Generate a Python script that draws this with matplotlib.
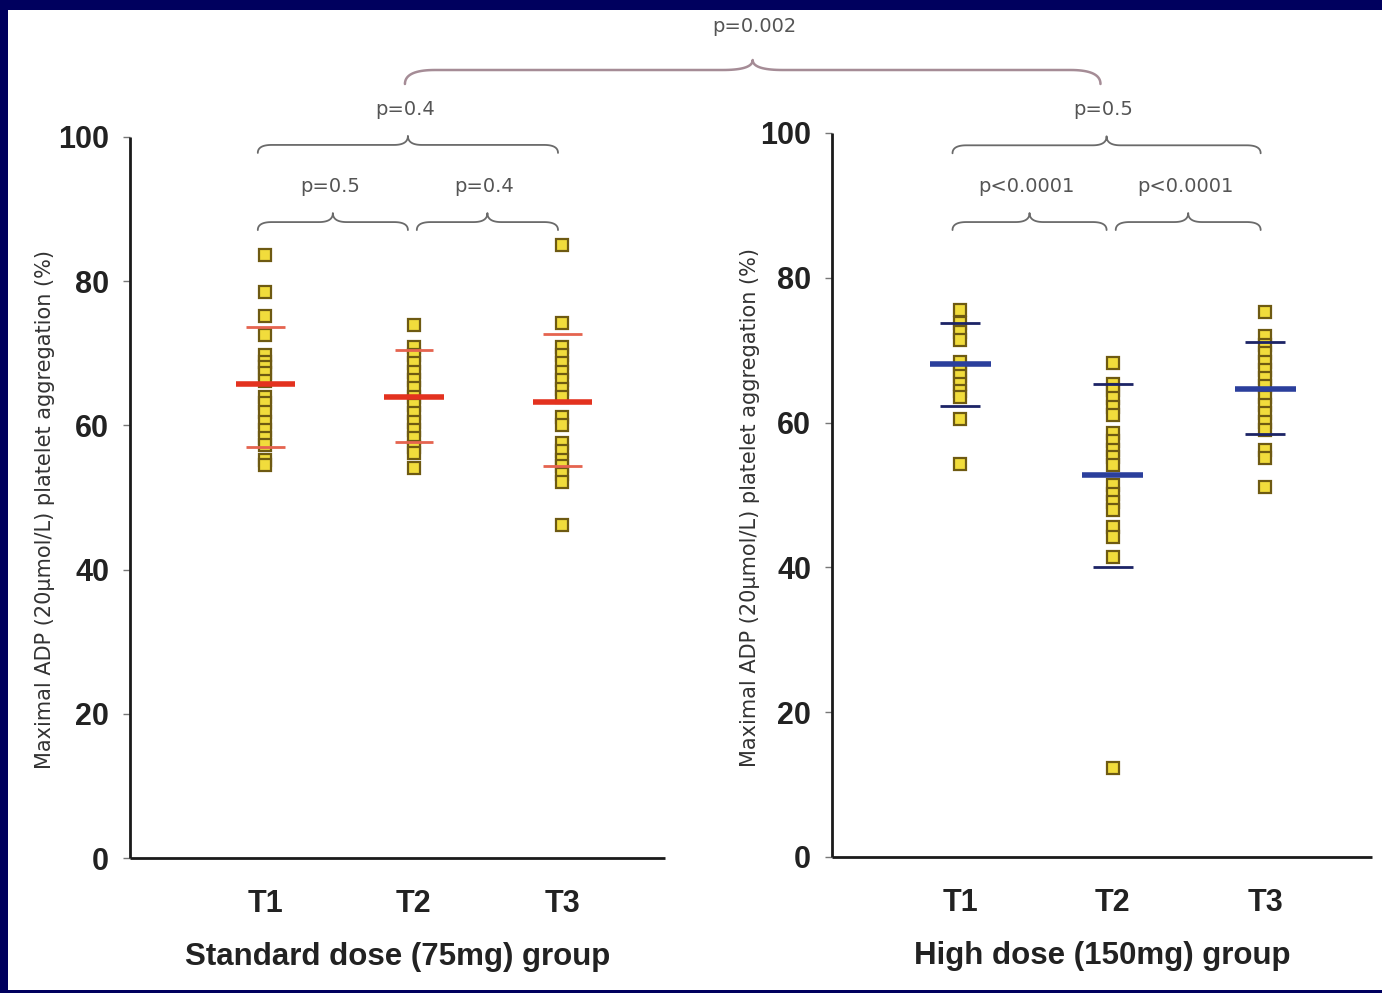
import numpy as np
import matplotlib
matplotlib.use("Agg")
import matplotlib.pyplot as plt
from matplotlib.patches import Rectangle
from matplotlib.lines import Line2D

# ---------------- data ----------------
timepoints = ["T1", "T2", "T3"]
yticks = [0, 20, 40, 60, 80, 100]

std_T1 = [83.6, 78.5, 75.2, 72.5, 69.8, 68.8, 68.1, 67.3, 66.1, 64.0, 63.1,
          61.9, 60.5, 59.4, 58.3, 57.3, 55.2, 54.5]
std_T2 = [73.9, 70.9, 69.8, 68.7, 67.4, 66.3, 65.2, 64.0, 62.8, 61.7, 60.5,
          59.4, 58.3, 57.0, 56.2, 54.1]
std_T3 = [85.0, 74.2, 70.9, 69.8, 68.6, 67.4, 66.3, 65.1, 64.0, 61.2, 60.0,
          57.5, 56.4, 55.2, 54.3, 53.3, 52.2, 46.2]
std_mean = [65.7, 64.0, 63.3]
std_upper = [73.7, 70.5, 72.7]
std_lower = [57.0, 57.7, 54.3]

high_T1 = [75.6, 73.7, 72.5, 71.4, 68.4, 67.3, 66.5, 65.3, 64.4, 63.5, 60.5, 54.3]
high_T2 = [68.2, 65.4, 64.5, 63.4, 62.2, 61.0, 58.5, 57.4, 56.2, 55.3, 54.1,
           51.4, 50.2, 49.1, 47.9, 45.6, 44.2, 41.5, 12.3]
high_T3 = [75.3, 71.9, 70.7, 69.6, 68.4, 67.3, 66.1, 65.0, 63.6, 62.4, 61.3,
           60.1, 59.0, 56.2, 55.1, 51.1]
high_mean = [68.1, 52.8, 64.7]
high_upper = [73.7, 65.3, 71.1]
high_lower = [62.3, 40.0, 58.4]

# comparisons: (x1, x2, label)
std_pairs = [(1, 2, "p=0.5"), (2, 3, "p=0.4"), (1, 3, "p=0.4")]
high_pairs = [(1, 2, "p<0.0001"), (2, 3, "p<0.0001"), (1, 3, "p=0.5")]
between_label = "p=0.002"

ylabel = "Maximal ADP (20\u00b5mol/L) platelet aggregation (%)"
std_title = "Standard dose (75mg) group"
high_title = "High dose (150mg) group"

# ---------------- figure ----------------
W, H = 1382, 993
DPI = 100
fig = plt.figure(figsize=(W / DPI, H / DPI), dpi=DPI, facecolor="#00005e")
fig.patches.append(Rectangle((8 / W, 3 / H), 1 - 8 / W, (H - 13) / H,
                             transform=fig.transFigure, facecolor="white",
                             edgecolor="none", zorder=-5))

axL = fig.add_axes([130 / W, (H - 858) / H, 535 / W, 721 / H])
axR = fig.add_axes([832 / W, (H - 857) / H, 540 / W, 724 / H])

TXT = "Liberation Sans"


def style(ax, xlim, lab_xy):
    ax.set_facecolor("none")
    ax.set_xlim(*xlim)
    ax.set_ylim(0, 100)
    for s in ["top", "right"]:
        ax.spines[s].set_visible(False)
    for s in ["left", "bottom"]:
        ax.spines[s].set_linewidth(2.0)
        ax.spines[s].set_color("#1a1a1a")
        ax.spines[s].set_capstyle("butt")
    ax.set_yticks(yticks)
    ax.set_yticklabels([str(v) for v in yticks], fontsize=22, fontfamily=TXT,
                       fontweight="bold", color="#222222")
    ax.tick_params(axis="y", length=5, width=1.0, color="#777777", pad=10)
    ax.set_xticks([1, 2, 3])
    ax.set_xticklabels(timepoints, fontsize=22, fontfamily=TXT,
                       fontweight="bold", color="#222222")
    ax.tick_params(axis="x", length=0, pad=22)
    ax.set_ylabel(ylabel, fontsize=15, color="#333333")
    ax.yaxis.set_label_coords(*lab_xy)


style(axL, (0.09, 3.69), (-0.14, 0.484))
style(axR, (0.16, 3.70), (-0.133, 0.483))


def draw_group(ax, groups, means, uppers, lowers, mcol, scol, mw, sw):
    for i, vals in enumerate(groups):
        x = i + 1
        ax.plot([x] * len(vals), vals, linestyle="none", marker="s",
                markersize=8.5, markerfacecolor="#f1dc3c",
                markeredgecolor="#6e5a12", markeredgewidth=1.6, zorder=2,
                clip_on=False)
        ax.hlines(means[i], x - mw, x + mw, color=mcol, lw=4.0, zorder=3)
        ax.hlines([uppers[i], lowers[i]], x - sw, x + sw, color=scol, lw=2.0,
                  zorder=3)


draw_group(axL, [std_T1, std_T2, std_T3], std_mean, std_upper, std_lower,
           "#e3321f", "#e5644f", 0.20, 0.13)
draw_group(axR, [high_T1, high_T2, high_T3], high_mean, high_upper, high_lower,
           "#2b3f9c", "#1c2466", 0.20, 0.13)

axL.set_xlabel(std_title, fontsize=22.5, fontfamily=TXT, fontweight="bold",
               color="#222222", labelpad=17)
axR.set_xlabel(high_title, fontsize=22.5, fontfamily=TXT, fontweight="bold",
               color="#222222", labelpad=17)

inv = fig.transFigure.inverted()


def qbez(p0, p1, p2, n=20):
    t = np.linspace(0, 1, n)[:, None]
    return (1 - t) ** 2 * p0 + 2 * (1 - t) * t * p1 + t ** 2 * p2


def brace(xa, xb, y, color, lw, h=8, tip=9, q=14):
    """xa, xb, y in display pixels; draws an upward curly brace."""
    xm = (xa + xb) / 2
    segs = [
        qbez(np.array([xa, y - h]), np.array([xa, y]), np.array([xa + q, y])),
        np.array([[xa + q, y], [xm - q, y]]),
        qbez(np.array([xm - q, y]), np.array([xm, y]), np.array([xm, y + tip])),
        qbez(np.array([xm, y + tip]), np.array([xm, y]), np.array([xm + q, y])),
        np.array([[xm + q, y], [xb - q, y]]),
        qbez(np.array([xb - q, y]), np.array([xb, y]), np.array([xb, y - h])),
    ]
    pts = np.vstack(segs)
    f = inv.transform(pts)
    fig.lines.append(Line2D(f[:, 0], f[:, 1], transform=fig.transFigure,
                            color=color, lw=lw, solid_capstyle="round"))
    return xm, y + tip


def pair_braces(ax, pairs, ylow, yhigh, dx0=-0.05, dx1=-0.03):
    for k, (a, b, lab) in enumerate(pairs):
        yv = ylow if b - a == 1 else yhigh
        xa = a + (dx0 if a == 1 else 0.02)
        xb = b + (dx1 if b == 3 else -0.04)
        pa = ax.transData.transform((xa, yv))
        pb = ax.transData.transform((xb, yv))
        xm, yt = brace(pa[0], pb[0], pa[1], "#6a6a6a", 1.3)
        ft = inv.transform((xm - 3, yt + 17))
        fig.text(ft[0], ft[1], lab, ha="center", va="bottom", fontsize=14,
                 color="#555555")


pair_braces(axL, std_pairs, 88.2, 98.9)
pair_braces(axR, high_pairs, 87.7, 98.3)

# between-group comparison: T2 of standard vs T2 of high dose
pa = axL.transData.transform((1.94, 0))
pb = axR.transData.transform((1.92, 0))
ytop = H - 70
xm, yt = brace(pa[0], pb[0], ytop, "#a58c96", 1.8, h=14, tip=10, q=30)
ft = inv.transform((xm + 2, yt + 24))
fig.text(ft[0], ft[1], between_label, ha="center", va="bottom", fontsize=14,
         color="#555555")

fig.savefig("out.png", dpi=DPI, facecolor=fig.get_facecolor())
